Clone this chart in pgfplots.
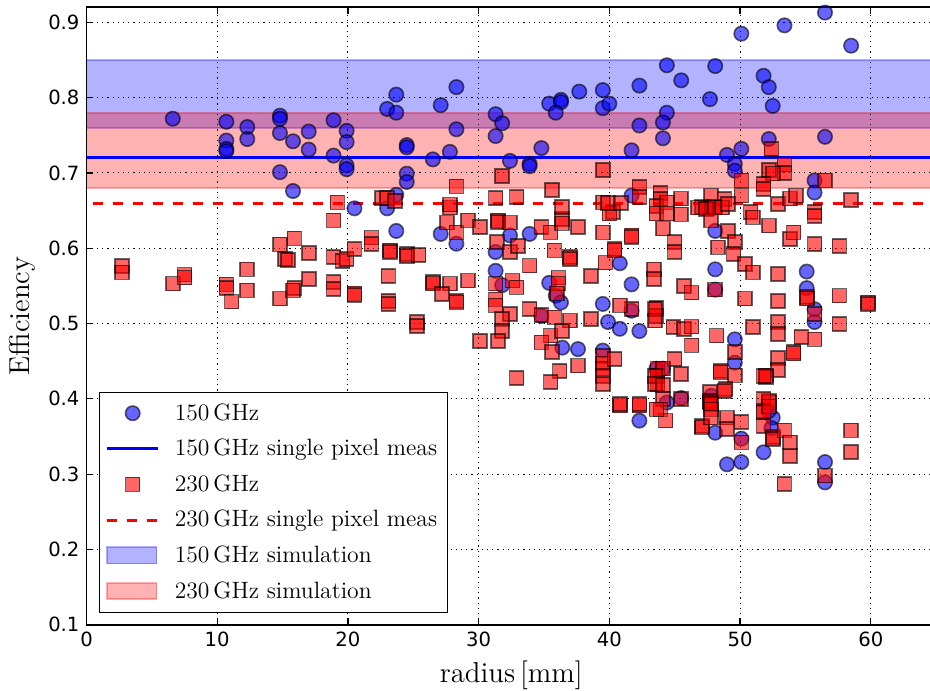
\documentclass[border=0pt]{standalone}
\usepackage{fontspec}
\usepackage{pgfplots}
\pgfplotsset{compat=1.18}
\newfontfamily\tickfont{DejaVu Sans}
\pgfplotsset{
  mymarklegend/.style={legend image code/.code={\draw[mark repeat=2,mark phase=2,##1] plot coordinates {(0cm,0cm) (0.45cm,0cm) (0.9cm,0cm)};}},
  mylinelegend/.style={legend image code/.code={\draw[##1] (0cm,0cm) -- (0.9cm,0cm);}},
  myarealegend/.style={legend image code/.code={\draw[##1] (0cm,-0.14cm) rectangle (0.87cm,0.15cm);}},
}

\pgfplotstableread{
x y
6.6 0.772
10.7 0.768
10.7 0.743
10.7 0.732
10.7 0.729
12.3 0.761
12.3 0.745
14.8 0.776
14.8 0.772
14.8 0.753
14.8 0.701
15.8 0.742
15.8 0.676
17.0 0.755
17.0 0.731
18.9 0.770
18.9 0.723
19.9 0.756
19.9 0.741
19.9 0.710
19.9 0.705
20.5 0.653
23.0 0.785
23.7 0.804
23.7 0.780
28.3 0.814
27.1 0.790
28.3 0.758
24.5 0.737
24.5 0.734
26.5 0.718
27.8 0.728
24.5 0.699
24.5 0.688
23.7 0.671
23.0 0.653
31.3 0.778
31.8 0.766
31.3 0.749
32.4 0.716
33.9 0.712
33.9 0.709
34.8 0.733
35.4 0.792
36.3 0.797
36.3 0.794
35.9 0.780
37.7 0.808
39.5 0.810
39.5 0.786
40.0 0.792
42.3 0.816
42.3 0.763
41.7 0.730
41.7 0.670
44.4 0.843
48.1 0.842
45.5 0.823
51.8 0.829
52.2 0.814
47.7 0.798
52.5 0.789
44.4 0.780
44.1 0.767
44.1 0.746
56.5 0.748
52.2 0.745
50.1 0.732
49.0 0.724
49.6 0.712
49.6 0.703
55.7 0.690
55.7 0.674
56.5 0.913
53.4 0.896
50.1 0.885
58.5 0.869
23.7 0.623
27.1 0.619
28.3 0.606
32.4 0.617
33.9 0.619
31.3 0.595
31.3 0.570
31.8 0.551
35.4 0.554
35.9 0.537
36.3 0.528
40.8 0.580
41.7 0.552
39.5 0.526
39.9 0.502
40.8 0.493
42.3 0.490
34.8 0.510
41.7 0.517
36.4 0.468
37.6 0.466
39.5 0.464
43.6 0.440
48.1 0.623
48.1 0.572
48.1 0.545
55.1 0.569
55.1 0.547
55.7 0.519
55.7 0.502
49.6 0.479
49.6 0.448
44.1 0.440
45.5 0.401
47.8 0.404
44.4 0.395
48.1 0.355
50.1 0.347
49.0 0.313
50.1 0.316
51.8 0.329
52.5 0.375
52.4 0.361
56.5 0.316
56.5 0.289
42.3 0.371
52.2 0.384
}\bluedata

\pgfplotstableread{
x y
2.7 0.576
2.7 0.568
6.6 0.553
7.5 0.565
7.5 0.561
10.7 0.552
10.7 0.547
11.1 0.529
12.3 0.572
12.3 0.544
14.8 0.605
14.8 0.533
15.2 0.586
15.4 0.584
15.9 0.613
15.9 0.547
15.8 0.544
17.0 0.594
17.0 0.559
18.9 0.637
18.9 0.588
18.9 0.555
18.9 0.546
19.2 0.661
19.6 0.583
19.9 0.586
20.5 0.540
20.5 0.538
20.5 0.599
21.8 0.614
21.8 0.606
22.6 0.667
23.0 0.667
23.6 0.663
23.2 0.597
23.2 0.595
24.5 0.592
24.5 0.590
25.4 0.591
23.1 0.563
23.1 0.530
23.1 0.526
26.5 0.555
26.5 0.553
27.8 0.553
27.2 0.539
28.3 0.530
28.3 0.528
29.2 0.557
25.3 0.502
25.3 0.497
27.6 0.634
27.8 0.654
28.3 0.621
28.3 0.682
27.8 0.658
29.2 0.637
30.1 0.628
31.5 0.637
31.5 0.635
32.4 0.634
31.3 0.667
32.9 0.668
31.8 0.696
31.4 0.608
32.4 0.595
33.0 0.603
33.9 0.577
31.3 0.553
31.3 0.532
31.3 0.524
32.6 0.557
32.9 0.548
32.4 0.513
31.8 0.506
31.8 0.490
31.5 0.477
30.1 0.477
33.9 0.519
34.8 0.628
35.5 0.621
36.4 0.639
36.4 0.633
35.8 0.597
37.0 0.588
37.0 0.586
37.6 0.628
35.6 0.677
36.4 0.655
36.1 0.561
36.1 0.553
36.0 0.540
34.8 0.511
35.8 0.508
37.0 0.504
35.5 0.484
34.8 0.475
36.4 0.490
35.6 0.462
36.2 0.437
37.6 0.444
32.9 0.428
35.5 0.422
38.6 0.563
38.6 0.506
39.5 0.621
39.7 0.581
40.3 0.648
40.0 0.646
40.4 0.599
40.4 0.597
41.7 0.617
41.7 0.615
41.7 0.519
40.8 0.524
39.5 0.457
39.5 0.447
39.5 0.440
39.5 0.430
39.5 0.420
40.4 0.453
40.8 0.391
42.3 0.391
43.4 0.572
43.4 0.559
43.6 0.521
43.6 0.510
43.7 0.440
43.7 0.430
43.7 0.420
39.5 0.661
39.5 0.704
39.9 0.660
40.9 0.660
42.3 0.681
42.3 0.668
43.9 0.673
52.4 0.732
53.4 0.711
52.2 0.704
53.4 0.700
52.5 0.699
51.8 0.685
51.8 0.679
50.1 0.690
50.1 0.670
56.5 0.690
58.5 0.664
45.5 0.666
47.8 0.670
48.8 0.665
47.1 0.655
47.6 0.653
48.0 0.655
52.9 0.659
53.8 0.666
54.3 0.670
43.9 0.665
55.7 0.648
50.8 0.648
43.6 0.656
43.6 0.646
44.4 0.661
44.4 0.646
44.1 0.626
45.0 0.608
45.0 0.595
45.5 0.645
46.8 0.654
47.4 0.652
48.1 0.654
48.6 0.654
49.1 0.659
47.8 0.637
49.1 0.623
48.3 0.601
49.6 0.608
49.5 0.592
50.4 0.579
51.0 0.568
51.0 0.641
52.2 0.630
53.8 0.612
54.1 0.621
55.7 0.643
55.7 0.606
57.6 0.603
52.9 0.566
52.9 0.530
52.9 0.502
52.9 0.486
50.4 0.533
51.0 0.495
55.1 0.535
55.1 0.533
57.6 0.537
57.6 0.499
59.8 0.528
59.8 0.526
55.7 0.513
55.7 0.479
54.7 0.482
54.1 0.462
54.1 0.460
52.9 0.454
52.9 0.438
52.0 0.431
52.0 0.429
51.8 0.430
52.2 0.397
52.2 0.395
51.8 0.400
49.6 0.462
49.6 0.431
48.9 0.413
48.5 0.437
48.5 0.435
45.7 0.550
46.3 0.541
48.1 0.545
43.5 0.519
43.5 0.504
44.9 0.495
45.7 0.493
46.3 0.496
46.3 0.471
48.2 0.484
45.0 0.453
45.5 0.433
44.1 0.440
43.5 0.430
43.5 0.420
44.1 0.418
44.1 0.400
45.5 0.400
47.7 0.409
47.7 0.397
47.7 0.395
48.8 0.410
43.9 0.386
44.3 0.371
47.8 0.393
47.8 0.386
47.1 0.364
47.1 0.362
47.8 0.375
49.0 0.375
49.0 0.360
50.1 0.369
50.1 0.342
51.8 0.384
51.8 0.382
51.8 0.364
52.2 0.390
52.5 0.349
52.5 0.347
53.4 0.358
53.8 0.342
53.8 0.324
53.4 0.287
56.5 0.298
58.5 0.358
58.5 0.329
40.8 0.393
42.3 0.393
43.6 0.386
}\reddata

\begin{document}
\begin{tikzpicture}
\begin{axis}[
  name=ax,
  scale only axis,
  width=424.8pt, height=308.7pt,
  xmin=0, xmax=65, ymin=0.1, ymax=0.92,
  xtick={0,10,20,30,40,50,60},
  ytick={0.1,0.2,0.3,0.4,0.5,0.6,0.7,0.8,0.9},
  yticklabel style={/pgf/number format/fixed, /pgf/number format/precision=1},
  ytick pos=left,
  xtick pos=both,
  tick align=inside,
  major tick length=3.3pt,
  tick style={black, line width=0.6pt},
  /pgf/number format/assume math mode=true,
  ticklabel style={font=\tickfont\fontsize{9.8}{11}\selectfont},
  axis line style={line width=0.9pt},
  grid=major,
  major grid style={black, line width=0.5pt, dash pattern=on 0.6pt off 2pt},
  axis on top,
  xlabel={radius\,[mm]},
  ylabel={Efficiency},
  label style={font=\fontsize{14.4}{16}\selectfont},
  xlabel style={at={(axis description cs:0.5,-0.082)}, anchor=center},
  ylabel style={at={(axis description cs:-0.0759,0.5)}, anchor=center},
  legend cell align=left,
  legend style={at={(0.0147,0.0194)}, anchor=south west, draw=black, line width=0.6pt, fill=white,
    font=\fontsize{11.8}{14}\selectfont, row sep=4pt, column sep=5.5pt, inner xsep=3pt, inner ysep=3.5pt},
]
% simulation bands
\addplot[forget plot, fill=blue, fill opacity=0.3, draw=blue, draw opacity=0.3, line width=0.8pt]
  coordinates {(-1,0.76) (66,0.76) (66,0.85) (-1,0.85) (-1,0.76)};
\addplot[forget plot, fill=red, fill opacity=0.3, draw=red, draw opacity=0.3, line width=0.8pt]
  coordinates {(-1,0.68) (66,0.68) (66,0.78) (-1,0.78) (-1,0.68)};

\addplot[only marks, mark=*, mark size=3.6pt, mymarklegend,
  mark options={fill=blue, fill opacity=0.6, draw=black, draw opacity=0.6, line width=0.8pt}]
  table[x=x,y=y] {\bluedata};
\addlegendentry{150\,GHz}

\addplot[blue, line width=1.5pt, mylinelegend]
  coordinates {(-1,0.72) (66,0.72)};
\addlegendentry{150\,GHz single pixel meas}

\addplot[only marks, mark=square*, mark size=3.5pt, mymarklegend,
  mark options={fill=red, fill opacity=0.6, draw=black, draw opacity=0.6, line width=0.8pt}]
  table[x=x,y=y] {\reddata};
\addlegendentry{230\,GHz}

\addplot[red, line width=1.5pt, dash pattern=on 5pt off 5pt, mylinelegend]
  coordinates {(-1,0.66) (66,0.66)};
\addlegendentry{230\,GHz single pixel meas}

\addlegendimage{myarealegend, fill=blue, fill opacity=0.3, draw=blue, draw opacity=0.3, line width=0.8pt}
\addlegendentry{150\,GHz simulation}
\addlegendimage{myarealegend, fill=red, fill opacity=0.3, draw=red, draw opacity=0.3, line width=0.8pt}
\addlegendentry{230\,GHz simulation}
\end{axis}
\pgfresetboundingbox
\path[use as bounding box] ([xshift=-43.25pt,yshift=-33pt]ax.south west) rectangle ([xshift=421.75pt,yshift=3.65pt]ax.north west);
\end{tikzpicture}
\end{document}
